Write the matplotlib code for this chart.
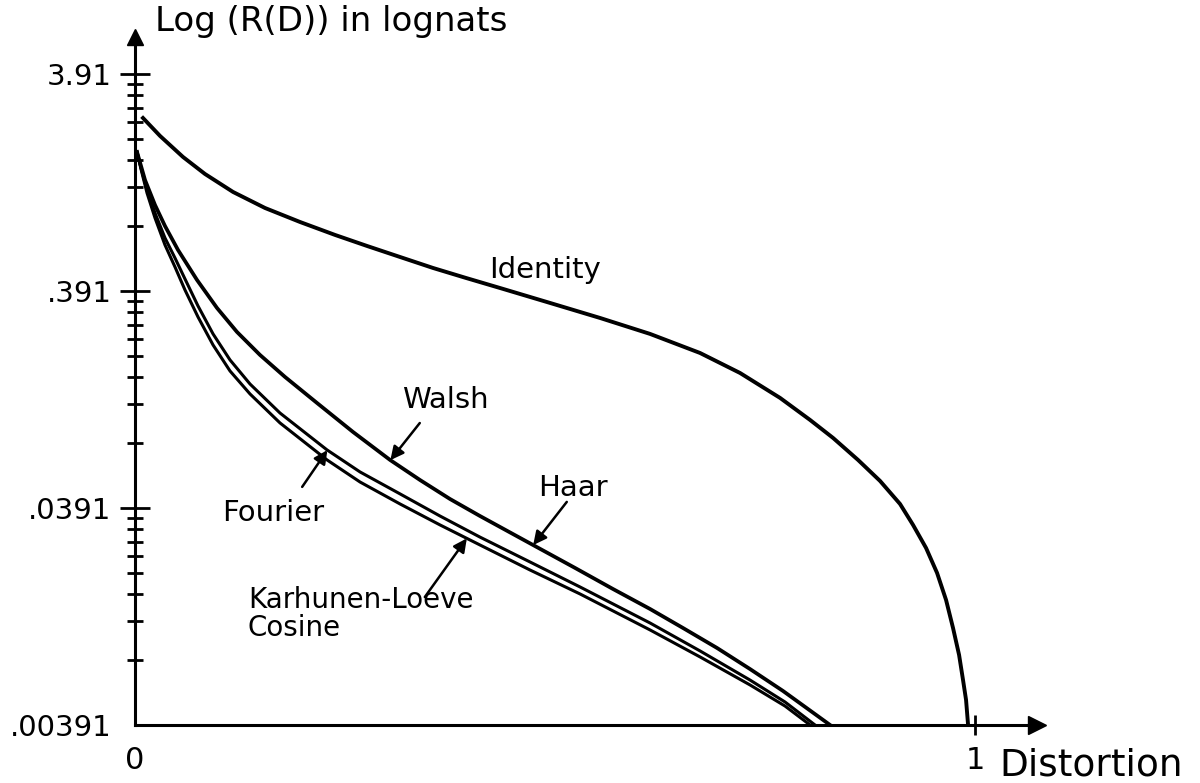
import numpy as np
import matplotlib
matplotlib.use("Agg")
import matplotlib.pyplot as plt
from matplotlib.ticker import FixedLocator, NullFormatter

# rate-distortion curves, R(D) in lognats vs distortion D
identity_x = [0.0095, 0.0298, 0.0571, 0.0833, 0.1167, 0.1548, 0.1964, 0.2381,
              0.2762, 0.3155, 0.3548, 0.3940, 0.4345, 0.4940, 0.5536, 0.6131,
              0.6726, 0.7202, 0.7679, 0.8036, 0.8310, 0.8607, 0.8869, 0.9107,
              0.9262, 0.9417, 0.9548, 0.9655, 0.9738, 0.9810, 0.9857, 0.9893,
              0.9917]
identity_y = [2.451, 2.026, 1.621, 1.353, 1.118, 0.943, 0.813, 0.7086,
              0.6303, 0.5607, 0.4990, 0.4489, 0.4035, 0.3444, 0.2936, 0.2479,
              0.2025, 0.1638, 0.1257, 0.0995, 0.0822, 0.0651, 0.0521, 0.0408,
              0.03266, 0.02557, 0.01962, 0.01473, 0.01094, 0.00822, 0.00630, 0.00510,
              0.00391]

walsh_haar_x = [0.0024, 0.0119, 0.0238, 0.0357, 0.0512, 0.0738, 0.0976, 0.1214,
                0.1488, 0.1786, 0.2167, 0.2595, 0.3036, 0.3393, 0.3750, 0.4107,
                0.4738, 0.5238, 0.5690, 0.6131, 0.6524, 0.6929, 0.7321, 0.7714,
                0.8012, 0.8274]
walsh_haar_y = [1.709, 1.270, 0.974, 0.779, 0.604, 0.4395, 0.3265, 0.2531,
                0.1983, 0.1570, 0.1191, 0.0876, 0.0651, 0.0526, 0.0430, 0.0359,
                0.0264, 0.0207, 0.01655, 0.01339, 0.01094, 0.00885, 0.00708, 0.00561,
                0.00463, 0.00391]

fourier_x = [0.0024, 0.0071, 0.0143, 0.0238, 0.0357, 0.0476, 0.0595, 0.0750,
             0.0929, 0.1131, 0.1369, 0.1726, 0.2286, 0.2679, 0.3155, 0.3631,
             0.4107, 0.4702, 0.5298, 0.6131, 0.6726, 0.7321, 0.7738, 0.8095]
fourier_y = [1.709, 1.442, 1.142, 0.8946, 0.6862, 0.5548, 0.4442, 0.3335,
             0.2479, 0.1881, 0.1457, 0.1071, 0.0724, 0.0573, 0.0454, 0.0359,
             0.0287, 0.02205, 0.01691, 0.01154, 0.00858, 0.00630, 0.00499, 0.00391]

kl_cosine_x = [0.0024, 0.0071, 0.0143, 0.0238, 0.0357, 0.0476, 0.0595, 0.0750,
               0.0929, 0.1131, 0.1369, 0.1726, 0.2286, 0.2679, 0.3155, 0.3631,
               0.4107, 0.4702, 0.5298, 0.6131, 0.6726, 0.7321, 0.7738, 0.8036]
kl_cosine_y = [1.709, 1.427, 1.106, 0.8486, 0.6370, 0.5045, 0.3951, 0.2968,
               0.2205, 0.1673, 0.1311, 0.0964, 0.0651, 0.0515, 0.0408, 0.03266,
               0.0264, 0.02025, 0.01570, 0.01072, 0.00805, 0.00598, 0.00478, 0.00391]

major_ticks = [0.00391, 0.0391, 0.391, 3.91]
major_labels = ['.00391', '.0391', '.391', '3.91']

plt.rcParams['font.family'] = 'DejaVu Sans'

fig = plt.figure(figsize=(12, 7.83), dpi=100)
ax = fig.add_axes([0.1125, 0.0741, 0.7517, 0.8787])
ax.set_yscale('log')
ax.set_xlim(0, 1.0738)
ax.set_ylim(0.00391, 5.79)

for s in ['top', 'right']:
    ax.spines[s].set_visible(False)
for s in ['left', 'bottom']:
    ax.spines[s].set_linewidth(2.2)

# arrow heads on the axes
ax.plot(1, 0, '>k', markersize=13, transform=ax.transAxes, clip_on=False)
ax.plot(0, 1, '^k', markersize=12, transform=ax.transAxes, clip_on=False)

ax.plot(identity_x, identity_y, 'k', lw=2.8)
ax.plot(walsh_haar_x, walsh_haar_y, 'k', lw=2.7)
ax.plot(fourier_x, fourier_y, 'k', lw=2.2)
ax.plot(kl_cosine_x, kl_cosine_y, 'k', lw=2.2)

# y ticks, one decade per major tick
ax.yaxis.set_major_locator(FixedLocator(major_ticks))
ax.set_yticklabels(major_labels)
minor = [m * b for b in major_ticks[:-1] for m in range(2, 10)]
ax.yaxis.set_minor_locator(FixedLocator(minor))
ax.yaxis.set_minor_formatter(NullFormatter())
ax.tick_params(axis='y', which='major', direction='inout', length=22, width=2,
               labelsize=21, pad=6)
ax.tick_params(axis='y', which='minor', direction='inout', length=12, width=2)
ax.yaxis.get_major_ticks()[0].tick1line.set_visible(False)

ax.set_xticks([0, 1])
ax.set_xticklabels(['0', '1'])
ax.tick_params(axis='x', direction='inout', length=14, width=2, labelsize=22, pad=8)
ax.xaxis.get_major_ticks()[0].tick1line.set_visible(False)

fig.text(0.129, 0.972, 'Log (R(D)) in lognats', fontsize=24.5, va='center', ha='left')
fig.text(0.833, 0.022, 'Distortion', fontsize=27, va='center', ha='left')

def on_curve(x, xs, ys):
    return 10 ** np.interp(x, xs, np.log10(ys))

arrow = dict(arrowstyle='-|>', color='k', lw=1.8, mutation_scale=20,
             shrinkA=0, shrinkB=0)

ax.text(0.488, 0.489, 'Identity', fontsize=21, ha='center', va='center')
ax.annotate('', xy=(0.304, on_curve(0.304, walsh_haar_x, walsh_haar_y)),
            xytext=(0.339, 0.0963), arrowprops=arrow)
ax.text(0.369, 0.123, 'Walsh', fontsize=21, ha='center', va='center')
ax.annotate('', xy=(0.474, on_curve(0.474, walsh_haar_x, walsh_haar_y)),
            xytext=(0.514, 0.0417), arrowprops=arrow)
ax.text(0.521, 0.0484, 'Haar', fontsize=21, ha='center', va='center')
ax.annotate('', xy=(0.229, on_curve(0.229, fourier_x, fourier_y)),
            xytext=(0.199, 0.0489), arrowprops=arrow)
ax.text(0.164, 0.0371, 'Fourier', fontsize=21, ha='center', va='center')
ax.annotate('', xy=(0.395, on_curve(0.395, kl_cosine_x, kl_cosine_y)),
            xytext=(0.345, 0.0152), arrowprops=arrow)
ax.text(0.1345, 0.01474, 'Karhunen-Loeve', fontsize=20, ha='left', va='center')
ax.text(0.1345, 0.01094, 'Cosine', fontsize=20, ha='left', va='center')

fig.savefig('out.png', dpi=100)
